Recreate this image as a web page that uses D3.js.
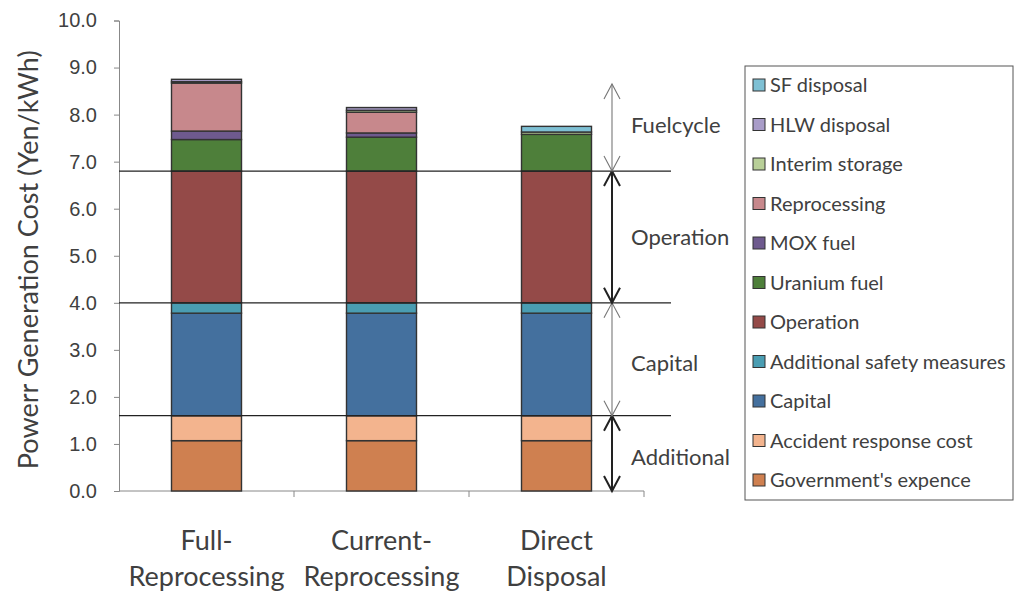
<!DOCTYPE html>
<html>
<head>
<meta charset="utf-8">
<script src="https://cdn.jsdelivr.net/npm/d3@7"></script>
<style>
  body { margin: 0; background: #fff; }
  svg { display: block; font-family: Lato, "Open Sans", sans-serif; }
</style>
</head>
<body>
<div id="chart"></div>
<script>
// categories (x axis), two lines each
const categories = ["Full-Reprocessing", "Current-Reprocessing", "Direct Disposal"];
const categoryLines = [["Full-", "Reprocessing"], ["Current-", "Reprocessing"], ["Direct", "Disposal"]];

// stack order, bottom to top
const components = ["Government's expence", "Accident response cost", "Capital",
    "Additional safety measures", "Operation", "Uranium fuel", "MOX fuel",
    "Reprocessing", "Interim storage", "HLW disposal", "SF disposal"];

// values in Yen/kWh, one per category
const governmentExpence = [1.07, 1.07, 1.07];
const accidentResponse  = [0.53, 0.53, 0.53];
const capital           = [2.18, 2.18, 2.18];
const safetyMeasures    = [0.22, 0.22, 0.22];
const operation         = [2.80, 2.80, 2.80];
const uraniumFuel       = [0.67, 0.72, 0.78];
const moxFuel           = [0.18, 0.09, 0.00];
const reprocessing      = [1.02, 0.44, 0.00];
const interimStorage    = [0.03, 0.04, 0.05];
const hlwDisposal       = [0.05, 0.06, 0.00];
const sfDisposal        = [0.00, 0.00, 0.12];

const yTicks = [0, 1, 2, 3, 4, 5, 6, 7, 8, 9, 10];

// cost groups shown on the right with arrows
const groupNames  = ["Additional", "Capital", "Operation", "Fuelcycle"];
const groupBounds = [0, 1.6, 4.0, 6.8, 8.65];

const colors = {
    "Government's expence": "#cf8050",
    "Accident response cost": "#f3b48e",
    "Capital": "#44709e",
    "Additional safety measures": "#4a9db2",
    "Operation": "#944a48",
    "Uranium fuel": "#4e7f3a",
    "MOX fuel": "#6e5a8e",
    "Reprocessing": "#c7888c",
    "Interim storage": "#b8cf98",
    "HLW disposal": "#a89cc8",
    "SF disposal": "#7ec0d4"
};

const series = [governmentExpence, accidentResponse, capital, safetyMeasures, operation,
    uraniumFuel, moxFuel, reprocessing, interimStorage, hlwDisposal, sfDisposal];

const table = categories.map((c, i) => {
    const row = {category: c};
    components.forEach((k, j) => row[k] = series[j][i]);
    return row;
});

const width = 1015, height = 595;
const textColor = "#404040";

const svg = d3.select("#chart").append("svg")
    .attr("width", width)
    .attr("height", height);

const x = d3.scaleBand()
    .domain(categories)
    .range([119, 644])
    .paddingInner(0.6)
    .paddingOuter(0.3);

const y = d3.scaleLinear()
    .domain([0, 10])
    .range([491, 20.5]);

// y axis
const yAxis = svg.append("g")
    .attr("transform", "translate(119,0)")
    .call(d3.axisLeft(y).tickValues(yTicks).tickFormat(d3.format(".1f")).tickSizeOuter(0).tickSize(5).tickPadding(17));
yAxis.select(".domain").attr("stroke", "#888");
yAxis.selectAll(".tick line").attr("stroke", "#888");
yAxis.selectAll(".tick text").attr("fill", textColor).style("font-size", "20px");

// x axis line with ticks between categories
svg.append("line")
    .attr("x1", 119).attr("x2", 644)
    .attr("y1", y(0)).attr("y2", y(0))
    .attr("stroke", "#888");
const step = x.step();
svg.append("g").selectAll("line")
    .data(categories.map((c, i) => x.range()[0] + step * (i + 1)))
    .join("line")
    .attr("x1", d => d).attr("x2", d => d)
    .attr("y1", y(0)).attr("y2", y(0) + 6)
    .attr("stroke", "#888");

// category labels
svg.append("g")
    .attr("text-anchor", "middle")
    .attr("fill", textColor)
    .style("font-size", "27px")
    .selectAll("text")
    .data(categories)
    .join("text")
    .attr("transform", d => `translate(${x(d) + x.bandwidth() / 2},0)`)
    .each(function(d, i) {
        d3.select(this).selectAll("tspan")
            .data(categoryLines[i])
            .join("tspan")
            .attr("x", 0)
            .attr("y", (t, k) => 550 + k * 36)
            .text(t => t);
    });

// y title
svg.append("text")
    .attr("transform", `translate(38,${(y(0) + y(10)) / 2 + 4}) rotate(-90)`)
    .attr("text-anchor", "middle")
    .attr("fill", textColor)
    .style("font-size", "27px")
    .text("Powerr Generation Cost (Yen/kWh)");

// stacked bars
const stack = d3.stack().keys(components)(table);
svg.append("g")
    .selectAll("g")
    .data(stack)
    .join("g")
    .attr("fill", d => colors[d.key])
    .selectAll("rect")
    .data(d => d.filter(p => p[1] - p[0] > 0))
    .join("rect")
    .attr("x", d => x(d.data.category))
    .attr("width", x.bandwidth())
    .attr("y", d => y(d[1]))
    .attr("height", d => y(d[0]) - y(d[1]))
    .attr("stroke", "#333")
    .attr("stroke-width", 1.4);

// horizontal group separators
svg.append("g")
    .selectAll("line")
    .data(groupBounds.slice(1, 4))
    .join("line")
    .attr("x1", 119).attr("x2", 671)
    .attr("y1", d => y(d)).attr("y2", d => y(d))
    .attr("stroke", "#222")
    .attr("stroke-width", 1.2);

// double arrows for each group
const ax = 612;
const labelShift = [4, 4, 0, -3];
const groups = groupNames.map((n, i) => ({name: n, lo: groupBounds[i], hi: groupBounds[i + 1], bold: i % 2 === 0}));
const arrows = svg.append("g").attr("fill", "none");
groups.forEach((g, i) => {
    const stroke = g.bold ? "#222" : "#777";
    const sw = g.bold ? 2 : 1.1;
    const top = y(g.hi), bot = y(g.lo);
    arrows.append("line")
        .attr("x1", ax).attr("x2", ax)
        .attr("y1", top).attr("y2", bot)
        .attr("stroke", stroke).attr("stroke-width", sw);
    arrows.append("path")
        .attr("d", `M${ax - 8},${top + 15}L${ax},${top}L${ax + 8},${top + 15}`)
        .attr("stroke", stroke).attr("stroke-width", sw);
    arrows.append("path")
        .attr("d", `M${ax - 8},${bot - 15}L${ax},${bot}L${ax + 8},${bot - 15}`)
        .attr("stroke", stroke).attr("stroke-width", sw);
    svg.append("text")
        .attr("x", ax + 19)
        .attr("y", (top + bot) / 2 + 8 + labelShift[i])
        .attr("fill", textColor)
        .style("font-size", "22px")
        .text(g.name);
});

// legend, top entry first
const legend = svg.append("g").attr("transform", "translate(745,66)");
legend.append("rect")
    .attr("width", 268).attr("height", 434)
    .attr("fill", "#fff")
    .attr("stroke", "#555");
const items = legend.selectAll("g")
    .data(components.slice().reverse())
    .join("g")
    .attr("transform", (d, i) => `translate(8,${19 + i * 39.5})`);
items.append("rect")
    .attr("x", 0).attr("y", -6)
    .attr("width", 12).attr("height", 12)
    .attr("fill", d => colors[d])
    .attr("stroke", "#333");
items.append("text")
    .attr("x", 17)
    .attr("y", 7)
    .attr("fill", textColor)
    .style("font-size", "20px")
    .text(d => d);
</script>
</body>
</html>
